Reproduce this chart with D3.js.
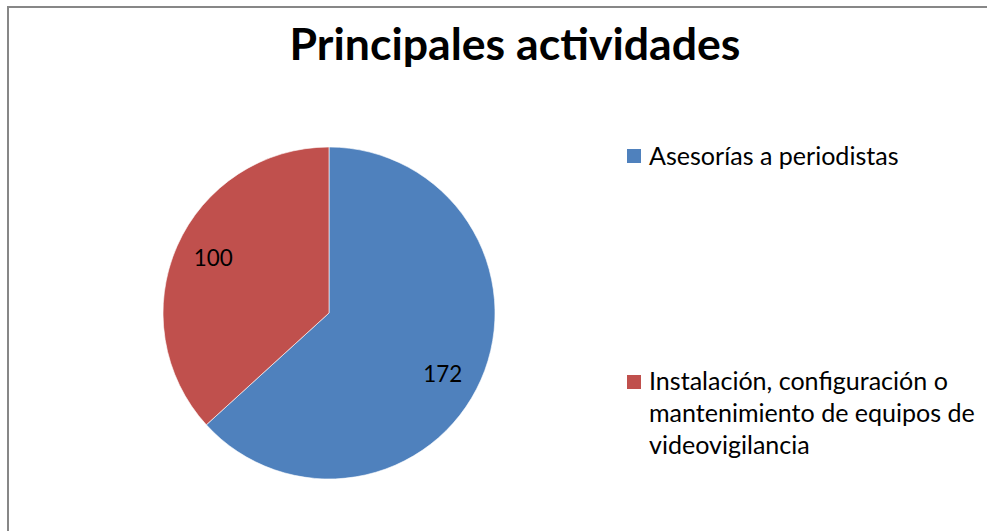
<!DOCTYPE html>
<html>
<head>
<meta charset="utf-8">
<script src="https://cdn.jsdelivr.net/npm/d3@7"></script>
<style>
  html, body { margin: 0; padding: 0; background: #fff; overflow: hidden; }
  svg { display: block; }
  text { font-family: Lato, "Open Sans", "DejaVu Sans", sans-serif; fill: #000; }
</style>
</head>
<body>
<svg id="chart" width="987" height="531"></svg>
<script>
const title = "Principales actividades";
const categories = ["Asesorías a periodistas", "Instalación, configuración o mantenimiento de equipos de videovigilancia"];
const legendLines = [["Asesorías a periodistas"], ["Instalación, configuración o", "mantenimiento de equipos de", "videovigilancia"]];
const values = [172, 100];
const colors = ["#4F81BD", "#C0504D"];

const svg = d3.select("#chart");

// chart border (extends beyond the visible area on right/bottom)
svg.append("rect")
  .attr("x", 8).attr("y", 7).attr("width", 1000).attr("height", 540)
  .attr("fill", "#fff").attr("stroke", "#878787").attr("stroke-width", 2);

function fitWidth(sel, target) {
  const node = sel.node();
  const base = parseFloat(sel.attr("font-size"));
  const w = node.getComputedTextLength();
  sel.attr("font-size", (base * target / w).toFixed(2));
}

// title
const t = svg.append("text")
  .attr("x", 515).attr("y", 60)
  .attr("text-anchor", "middle")
  .attr("font-weight", "bold")
  .attr("font-size", 40)
  .text(title);
fitWidth(t, 451);

// pie
const cx = 329, cy = 313, r = 166;
const pie = d3.pie().sort(null).value(d => d)(values);
const arc = d3.arc().innerRadius(0).outerRadius(r);
const labelArc = d3.arc().innerRadius(r * 0.775).outerRadius(r * 0.775);

const g = svg.append("g").attr("transform", `translate(${cx},${cy})`);
g.selectAll("path.slice")
  .data(pie)
  .join("path")
  .attr("class", "slice")
  .attr("d", arc)
  .attr("fill", (d, i) => colors[i])
  .attr("stroke", "#fff")
  .attr("stroke-width", 0.6);

const labelOffsets = [[-4, 8.5], [2, -3.5]];
g.selectAll("text.lbl")
  .data(pie)
  .join("text")
  .attr("class", "lbl")
  .attr("x", (d, i) => labelArc.centroid(d)[0] + labelOffsets[i][0])
  .attr("y", (d, i) => labelArc.centroid(d)[1] + labelOffsets[i][1])
  .attr("text-anchor", "middle")
  .attr("dominant-baseline", "central")
  .attr("font-size", 22)
  .text(d => d.data)
  .each(function() { fitWidth(d3.select(this), 39); });

// legend
const legendX = 627;
const legendRows = [{ sq: 149, base: 165 }, { sq: 375, base: 390 }];
const lineH = 32;
let legendFont = 22;
const probe = svg.append("text").attr("font-size", 22).text(legendLines[1][1]);
legendFont = 22 * 326 / probe.node().getComputedTextLength();
probe.remove();

legendLines.forEach((lines, i) => {
  const row = svg.append("g");
  row.append("rect")
    .attr("x", legendX).attr("y", legendRows[i].sq)
    .attr("width", 14).attr("height", 14)
    .attr("fill", colors[i]);
  const txt = row.append("text")
    .attr("x", legendX + 22)
    .attr("y", legendRows[i].base)
    .attr("font-size", legendFont.toFixed(2));
  lines.forEach((ln, j) => {
    txt.append("tspan")
      .attr("x", legendX + 22)
      .attr("dy", j === 0 ? 0 : lineH)
      .text(ln);
  });
});
</script>
</body>
</html>
